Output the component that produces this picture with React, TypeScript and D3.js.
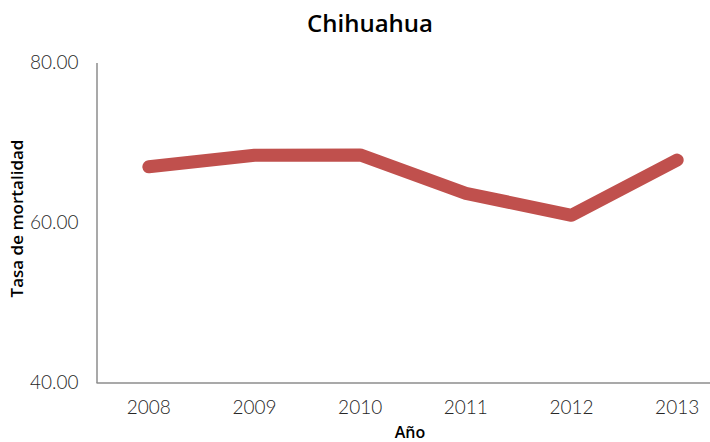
import React, { useEffect, useRef } from 'react';
import * as d3 from 'd3';

const years = ['2008', '2009', '2010', '2011', '2012', '2013'];
const tasa = [66.96, 68.4, 68.45, 63.65, 60.9, 67.8];
const yTicks = [40, 60, 80];

const W = 710;
const H = 442;
const margin = { top: 62, right: -20, bottom: 60, left: 96 };

export default function App() {
  const ref = useRef<SVGSVGElement>(null);

  useEffect(() => {
    const svg = d3.select(ref.current);
    svg.selectAll('*').remove();

    const x = d3
      .scaleBand<string>()
      .domain(years)
      .range([margin.left, W - margin.right]);
    const y = d3
      .scaleLinear()
      .domain([40, 80])
      .range([H - margin.bottom + 0.5, margin.top + 0.5]);

    const font = 'Lato, "Open Sans", sans-serif';
    const titleFont = '"Open Sans", Lato, sans-serif';

    // title
    svg
      .append('text')
      .attr('x', 370)
      .attr('y', 32)
      .attr('text-anchor', 'middle')
      .style('font-family', titleFont)
      .style('font-size', '24px')
      .style('font-weight', 600)
      .style('fill', '#000')
      .text('Chihuahua');

    // axes
    const yAxis = svg
      .append('g')
      .attr('transform', `translate(${margin.left + 0.5},0)`)
      .call(d3.axisLeft(y).tickValues(yTicks).tickSize(0).tickPadding(18).tickFormat(d3.format('.2f')));
    yAxis.select('.domain').attr('stroke', '#8c8c8c').attr('stroke-width', 1.5);
    yAxis
      .selectAll('text')
      .style('font-family', font)
      .style('font-size', '19px')
      .style('font-weight', 300)
      .style('fill', '#262626');

    const xAxis = svg
      .append('g')
      .attr('transform', `translate(0,${y(40)})`)
      .call(d3.axisBottom(x).tickSize(0).tickPadding(18));
    xAxis.select('.domain').attr('stroke', '#8c8c8c').attr('stroke-width', 1.5);
    xAxis
      .selectAll('text')
      .style('font-family', font)
      .style('font-size', '19px')
      .style('font-weight', 300)
      .style('fill', '#262626');

    // axis titles
    svg
      .append('text')
      .attr('transform', `translate(23,${(y(40) + y(80)) / 2 - 4}) rotate(-90)`)
      .attr('text-anchor', 'middle')
      .style('font-family', titleFont)
      .style('font-size', '17px')
      .style('font-weight', 600)
      .style('fill', '#000')
      .text('Tasa de mortalidad');

    svg
      .append('text')
      .attr('x', 410)
      .attr('y', 438)
      .attr('text-anchor', 'middle')
      .style('font-family', titleFont)
      .style('font-size', '16px')
      .style('font-weight', 600)
      .style('fill', '#000')
      .text('Año');

    // line
    const line = d3
      .line<number>()
      .x((_, i) => (x(years[i]) as number) + x.bandwidth() / 2)
      .y((d) => y(d));

    svg
      .append('path')
      .datum(tasa)
      .attr('d', line)
      .attr('fill', 'none')
      .attr('stroke', '#C0504D')
      .attr('stroke-width', 13)
      .attr('stroke-linecap', 'round')
      .attr('stroke-linejoin', 'round');
  }, []);

  return (
    <svg
      ref={ref}
      width={W}
      height={H}
      style={{ position: 'absolute', left: 0, top: 0, background: '#fff' }}
    />
  );
}
